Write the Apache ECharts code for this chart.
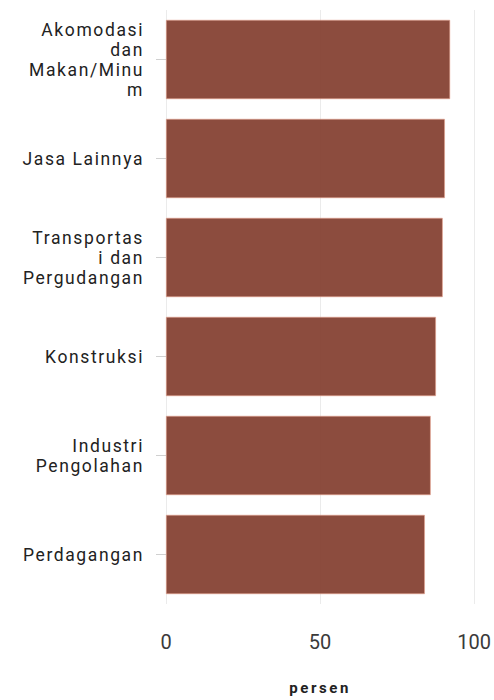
<!DOCTYPE html>
<html>
<head>
<meta charset="utf-8">
<script src="https://cdn.jsdelivr.net/npm/echarts@6/dist/echarts.min.js"></script>
<style>
  html, body { margin: 0; padding: 0; background: #ffffff; }
  #chart { width: 494px; height: 700px; }
  #chart svg text { letter-spacing: 1.6px; }
  #chart svg text[text-anchor="middle"] { letter-spacing: 0px; }
  #chart svg text[text-anchor="middle"][style*="bold"] { letter-spacing: 2.6px; }
</style>
</head>
<body>
<div id="chart"></div>
<script>
// Categories (top to bottom) and their displayed, wrapped labels
const categories = [
  'Akomodasi dan Makan/Minum',
  'Jasa Lainnya',
  'Transportasi dan Pergudangan',
  'Konstruksi',
  'Industri Pengolahan',
  'Perdagangan'
];
const categoryLabels = [
  'Akomodasi\ndan\nMakan/Minu\nm',
  'Jasa Lainnya',
  'Transportas\ni dan\nPergudangan',
  'Konstruksi',
  'Industri\nPengolahan',
  'Perdagangan'
];
// Values in percent
const values = [92.2, 90.5, 89.8, 87.6, 85.9, 84.0];
const xTicks = [0, 50, 100];
const xAxisTitle = 'persen';

const chart = echarts.init(document.getElementById('chart'), null, { renderer: 'svg' });

const labelMap = {};
categories.forEach((c, i) => { labelMap[c] = categoryLabels[i]; });

chart.setOption({
  animation: false,
  backgroundColor: '#ffffff',
  grid: { left: 166, right: 18, top: 10, bottom: 92, containLabel: false },
  xAxis: {
    type: 'value',
    min: xTicks[0],
    max: xTicks[xTicks.length - 1],
    interval: 50,
    name: xAxisTitle,
    nameLocation: 'middle',
    nameGap: 76,
    nameTextStyle: { fontFamily: 'Roboto', fontSize: 15, fontWeight: 'bold', color: '#222' },
    axisLine: { show: false },
    axisTick: { show: false },
    axisLabel: { fontFamily: 'Roboto', fontSize: 20, color: '#3a3a3a', margin: 28 },
    splitLine: { show: true, lineStyle: { color: '#ebebeb', width: 1 } }
  },
  yAxis: {
    type: 'category',
    data: categories,
    inverse: true,
    axisLine: { show: false },
    axisTick: { show: true, alignWithLabel: true, length: 10, lineStyle: { color: '#d0d0d0' } },
    axisLabel: {
      fontFamily: 'Roboto', fontSize: 17.5, color: '#222', margin: 22,
      lineHeight: 20, align: 'right',
      formatter: (v) => labelMap[v] || v
    },
    splitLine: { show: false }
  },
  series: [{
    type: 'bar',
    data: values,
    barCategoryGap: '20%',
    itemStyle: { color: '#864234', opacity: 0.95, borderColor: '#e8a390', borderWidth: 0.6 }
  }]
});
</script>
</body>
</html>
